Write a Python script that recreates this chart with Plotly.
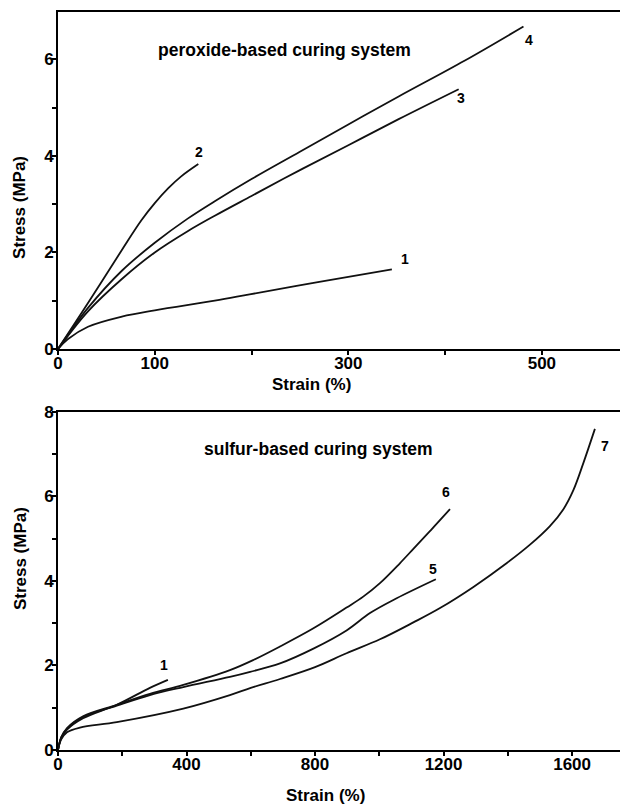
import plotly.graph_objects as go

# ---------------- data: peroxide-based (top) ----------------
p1_x = [0, 10, 31, 66, 100, 162, 198, 270, 345]
p1_y = [0, 0.2, 0.46, 0.67, 0.8, 1.0, 1.13, 1.39, 1.65]
p2_x = [0, 31, 66, 86, 100, 114, 127, 145]
p2_y = [0, 0.95, 2.05, 2.66, 3.02, 3.33, 3.57, 3.83]
p3_x = [0, 31, 66, 100, 134, 162, 200, 249.5, 300, 352, 414]
p3_y = [0, 0.78, 1.45, 2.0, 2.44, 2.76, 3.17, 3.7, 4.22, 4.76, 5.38]
p4_x = [0, 31, 66, 100, 134, 162, 200, 249.5, 300, 352, 420, 481]
p4_y = [0, 0.85, 1.62, 2.2, 2.7, 3.06, 3.52, 4.08, 4.65, 5.23, 5.97, 6.68]

# ---------------- data: sulfur-based (bottom) ----------------
s1_x = [0, 10, 28, 78, 183, 286, 342]
s1_y = [0, 0.28, 0.48, 0.75, 1.07, 1.47, 1.66]
s5_x = [0, 10, 28, 78, 183, 286, 390, 535, 598, 691, 795, 898, 971, 1054, 1176]
s5_y = [0, 0.3, 0.5, 0.78, 1.05, 1.3, 1.49, 1.73, 1.85, 2.05, 2.4, 2.83, 3.24, 3.59, 4.04]
s6_x = [0, 10, 28, 78, 183, 286, 390, 535, 608, 691, 795, 898, 950, 1002, 1064, 1106, 1160, 1220]
s6_y = [0, 0.3, 0.52, 0.8, 1.07, 1.33, 1.54, 1.89, 2.13, 2.45, 2.88, 3.37, 3.63, 3.95, 4.42, 4.76, 5.2, 5.7]
s7_x = [0, 10, 28, 68, 183, 390, 535, 600, 691, 800, 898, 1002, 1106, 1189, 1293, 1396, 1469, 1531,
        1573, 1604, 1635, 1671]
s7_y = [0, 0.25, 0.42, 0.53, 0.66, 0.98, 1.3, 1.47, 1.68, 1.96, 2.29, 2.62, 3.02, 3.36, 3.86, 4.42, 4.86,
        5.3, 5.7, 6.15, 6.79, 7.6]

# curve labels (text, strain, stress)
top_labels = [("1", 359, 1.87), ("2", 146, 4.08), ("3", 416, 5.2), ("4", 487, 6.4)]
bot_labels = [("1", 330, 2.01), ("5", 1167, 4.28), ("6", 1208, 6.1), ("7", 1702, 7.2)]

top_xticks = [0, 100, 200, 300, 400, 500]
top_xtext = ["0", "100", "", "300", "", "500"]
top_yticks = [0, 1, 2, 3, 4, 5, 6]
top_ytext = ["0", "", "2", "", "4", "", "6"]
bot_xticks = [0, 200, 400, 600, 800, 1000, 1200, 1400, 1600]
bot_xtext = ["0", "", "400", "", "800", "", "1200", "", "1600"]
bot_yticks = [0, 1, 2, 3, 4, 5, 6, 7, 8]
bot_ytext = ["0", "", "2", "", "4", "", "6", "", "8"]

FONT = "Liberation Sans, Arial, sans-serif"
line = dict(color="#111111", width=1.8, shape="spline", smoothing=1.0)

fig = go.Figure()
for xs, ys in [(p1_x, p1_y), (p2_x, p2_y), (p3_x, p3_y), (p4_x, p4_y)]:
    fig.add_trace(go.Scatter(x=xs, y=ys, mode="lines", line=line, xaxis="x", yaxis="y",
                             showlegend=False, hoverinfo="skip"))
for xs, ys in [(s1_x, s1_y), (s5_x, s5_y), (s6_x, s6_y), (s7_x, s7_y)]:
    fig.add_trace(go.Scatter(x=xs, y=ys, mode="lines", line=line, xaxis="x2", yaxis="y2",
                             showlegend=False, hoverinfo="skip"))

tickfont = dict(family=FONT, size=17, color="black", weight=700)
axis_common = dict(showgrid=False, zeroline=False, showline=True, linecolor="black", linewidth=2,
                   ticks="outside", ticklen=4, tickwidth=1.5, tickcolor="black",
                   tickfont=tickfont, automargin=False)

fig.update_layout(
    width=620, height=798,
    margin=dict(l=50, r=0, t=4, b=56, autoexpand=False),
    paper_bgcolor="white", plot_bgcolor="white",
    font=dict(family=FONT, color="black"),
    xaxis=dict(domain=[0, 1], anchor="y", range=[0, 589], mirror=True, ticklabelstandoff=-6,
               tickmode="array", tickvals=top_xticks, ticktext=top_xtext, **axis_common),
    yaxis=dict(domain=[0.5434, 1], anchor="x", range=[0, 6.98], ticklabelstandoff=-5,
               tickmode="array", tickvals=top_yticks, ticktext=top_ytext, **axis_common),
    xaxis2=dict(domain=[0, 1], anchor="y2", range=[0, 1774], mirror=True, ticklabelstandoff=-6,
                tickmode="array", tickvals=bot_xticks, ticktext=bot_xtext, **axis_common),
    yaxis2=dict(domain=[0, 0.458], anchor="x2", range=[0, 8], ticklabelstandoff=-5,
                tickmode="array", tickvals=bot_yticks, ticktext=bot_ytext, **axis_common),
)

lab_font = dict(family=FONT, size=14, color="black", weight=700)
ann = []
for t, x, y in top_labels:
    ann.append(dict(text=t, x=x, y=y, xref="x", yref="y", showarrow=False, font=lab_font))
for t, x, y in bot_labels:
    ann.append(dict(text=t, x=x, y=y, xref="x2", yref="y2", showarrow=False, font=lab_font))
pfont = dict(family=FONT, size=17.5, color="black", weight=700)
ann.append(dict(text="peroxide-based curing system", x=234, y=6.2, xref="x", yref="y",
                showarrow=False, font=pfont))
ann.append(dict(text="sulfur-based curing system", x=812, y=7.12, xref="x2", yref="y2",
                showarrow=False, font=pfont))
# axis titles
ttl = dict(family=FONT, size=17, color="black", weight=700)
for txt, x, y, ang in [("Stress (MPa)", -0.0667, 0.7358, -90), ("Stress (MPa)", -0.0667, 0.260, -90),
                       ("Strain (%)", 0.4456, 0.4946, 0), ("Strain (%)", 0.470, -0.061, 0)]:
    ann.append(dict(text=txt, x=x, y=y, xref="paper", yref="paper", xanchor="center",
                    yanchor="middle", textangle=ang, showarrow=False, font=ttl))
fig.update_layout(annotations=ann)

fig.write_html("out.html")
